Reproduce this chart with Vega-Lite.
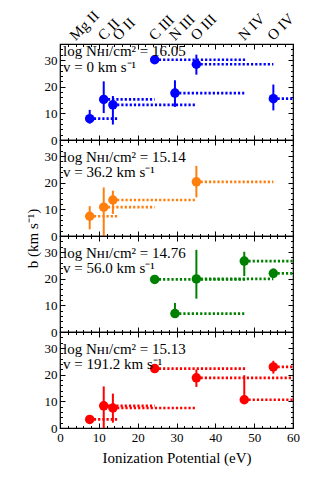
{
  "$schema": "https://vega.github.io/schema/vega-lite/v6.json",
  "padding": {"left": 24, "top": 7, "right": 5, "bottom": 5},
  "background": "white",
  "datasets": {
    "pts": [
      {"panel": 1, "ion": "Mg II", "ip": 7.65, "ip_end": 15.04, "b": 8.0, "lo": 6.2, "hi": 11.3},
      {"panel": 1, "ion": "C II", "ip": 11.26, "ip_end": 24.38, "b": 15.2, "lo": 10.1, "hi": 22.0},
      {"panel": 1, "ion": "O II", "ip": 13.62, "ip_end": 35.12, "b": 13.2, "lo": 5.8, "hi": 16.5},
      {"panel": 1, "ion": "C III", "ip": 24.38, "ip_end": 47.89, "b": 30.1, "lo": 30.1, "hi": 30.1},
      {"panel": 1, "ion": "N III", "ip": 29.6, "ip_end": 47.45, "b": 17.6, "lo": 12.4, "hi": 22.4},
      {"panel": 1, "ion": "O III", "ip": 35.12, "ip_end": 54.94, "b": 28.4, "lo": 24.5, "hi": 32.0},
      {"panel": 1, "ion": "O IV", "ip": 54.94, "ip_end": 77.41, "b": 15.5, "lo": 11.1, "hi": 20.8},
      {"panel": 2, "ion": "Mg II", "ip": 7.65, "ip_end": 15.04, "b": 7.4, "lo": 2.5, "hi": 11.2},
      {"panel": 2, "ion": "C II", "ip": 11.26, "ip_end": 24.38, "b": 10.8, "lo": 0.0, "hi": 18.2},
      {"panel": 2, "ion": "O II", "ip": 13.62, "ip_end": 35.12, "b": 13.5, "lo": 8.3, "hi": 17.0},
      {"panel": 2, "ion": "O III", "ip": 35.12, "ip_end": 54.94, "b": 20.3, "lo": 14.5, "hi": 26.3},
      {"panel": 3, "ion": "C III", "ip": 24.38, "ip_end": 47.89, "b": 19.7, "lo": 19.7, "hi": 19.7},
      {"panel": 3, "ion": "N III", "ip": 29.6, "ip_end": 47.45, "b": 6.9, "lo": 5.5, "hi": 10.9},
      {"panel": 3, "ion": "O III", "ip": 35.12, "ip_end": 54.94, "b": 19.9, "lo": 12.5, "hi": 30.8},
      {"panel": 3, "ion": "N IV", "ip": 47.45, "ip_end": 77.47, "b": 26.6, "lo": 21.0, "hi": 30.1},
      {"panel": 3, "ion": "O IV", "ip": 54.94, "ip_end": 77.41, "b": 22.0, "lo": 20.3, "hi": 23.8},
      {"panel": 4, "ion": "Mg II", "ip": 7.65, "ip_end": 15.04, "b": 3.2, "lo": 3.2, "hi": 3.2},
      {"panel": 4, "ion": "C II", "ip": 11.26, "ip_end": 24.38, "b": 8.3, "lo": 0.0, "hi": 15.6},
      {"panel": 4, "ion": "O II", "ip": 13.62, "ip_end": 35.12, "b": 7.5, "lo": 2.0, "hi": 12.9},
      {"panel": 4, "ion": "C III", "ip": 24.38, "ip_end": 47.89, "b": 22.3, "lo": 22.3, "hi": 22.3},
      {"panel": 4, "ion": "O III", "ip": 35.12, "ip_end": 59.7, "b": 18.8, "lo": 15.4, "hi": 21.9},
      {"panel": 4, "ion": "N IV", "ip": 47.45, "ip_end": 77.47, "b": 10.6, "lo": 10.6, "hi": 19.8},
      {"panel": 4, "ion": "O IV", "ip": 54.94, "ip_end": 77.41, "b": 22.9, "lo": 20.4, "hi": 25.2}
    ],
    "ions": [
      {"ion": "Mg II", "ip": 7.65},
      {"ion": "C II", "ip": 11.26},
      {"ion": "O II", "ip": 13.62},
      {"ion": "C III", "ip": 24.38},
      {"ion": "N III", "ip": 29.6},
      {"ion": "O III", "ip": 35.12},
      {"ion": "N IV", "ip": 47.45},
      {"ion": "O IV", "ip": 54.94}
    ],
    "ann": [
      {"panel": 1, "l1": "log Nʜɪ/cm² = 16.05", "l2": "v = 0 km s⁻¹"},
      {"panel": 2, "l1": "log Nʜɪ/cm² = 15.14", "l2": "v = 36.2 km s⁻¹"},
      {"panel": 3, "l1": "log Nʜɪ/cm² = 14.76", "l2": "v = 56.0 km s⁻¹"},
      {"panel": 4, "l1": "log Nʜɪ/cm² = 15.13", "l2": "v = 191.2 km s⁻¹"}
    ]
  },
  "spacing": 0,
  "bounds": "flush",
  "vconcat": [
    {
      "width": 233, "height": 96,
      "layer": [
        {"data": {"name": "pts"}, "transform": [{"filter": "datum.panel == 1"}],
         "mark": {"type": "rule", "strokeDash": [2.2, 2], "strokeWidth": 2.7, "color": "#0000ff", "clip": true},
         "encoding": {
           "x": {"field": "ip", "type": "quantitative", "scale": {"domain": [0, 60], "nice": false, "zero": false},
                 "axis": {"orient": "bottom", "values": [0,2,4,6,8,10,12,14,16,18,20,22,24,26,28,30,32,34,36,38,40,42,44,46,48,50,52,54,56,58,60], "labels": false, "title": null,
                          "tickSize": {"condition": {"test": "datum.value % 10 === 0", "value": -5}, "value": -2.5}}},
           "x2": {"field": "ip_end"},
           "y": {"field": "b", "type": "quantitative", "scale": {"domain": [0, 36], "nice": false},
                 "axis": {"orient": "left", "values": [0,2,4,6,8,10,12,14,16,18,20,22,24,26,28,30,32,34,36], "labelExpr": "datum.value % 10 === 0 ? datum.label : ''", "title": null,
                          "tickSize": {"condition": {"test": "datum.value % 10 === 0", "value": -5}, "value": -2.5}}}
         }},
        {"data": {"name": "pts"}, "transform": [{"filter": "datum.panel == 1"}],
         "mark": {"type": "rule", "strokeWidth": 2, "color": "#0000ff"},
         "encoding": {
           "x": {"field": "ip", "type": "quantitative",
                 "axis": {"orient": "top", "values": [0,2,4,6,8,10,12,14,16,18,20,22,24,26,28,30,32,34,36,38,40,42,44,46,48,50,52,54,56,58,60], "labels": false, "title": null,
                          "tickSize": {"condition": {"test": "datum.value % 10 === 0", "value": -5}, "value": -2.5}}},
           "y": {"field": "lo", "type": "quantitative",
                 "axis": {"orient": "right", "values": [0,2,4,6,8,10,12,14,16,18,20,22,24,26,28,30,32,34,36], "labels": false, "title": null,
                          "tickSize": {"condition": {"test": "datum.value % 10 === 0", "value": -5}, "value": -2.5}}},
           "y2": {"field": "hi"}
         }},
        {"data": {"name": "pts"}, "transform": [{"filter": "datum.panel == 1"}],
         "mark": {"type": "circle", "size": 90, "opacity": 1, "color": "#0000ff"},
         "encoding": {"x": {"field": "ip", "type": "quantitative", "axis": null}, "y": {"field": "b", "type": "quantitative", "axis": null}}},
        {"data": {"name": "ann"}, "transform": [{"filter": "datum.panel == 1"}],
         "mark": {"type": "text", "align": "left", "baseline": "middle", "font": "Liberation Serif", "fontSize": 15, "color": "black"},
         "encoding": {"x": {"datum": 0.8, "type": "quantitative", "axis": null}, "y": {"datum": 33.2, "type": "quantitative", "axis": null}, "text": {"field": "l1"}}},
        {"data": {"name": "ann"}, "transform": [{"filter": "datum.panel == 1"}],
         "mark": {"type": "text", "align": "left", "baseline": "middle", "font": "Liberation Serif", "fontSize": 15, "color": "black"},
         "encoding": {"x": {"datum": 0.8, "type": "quantitative", "axis": null}, "y": {"datum": 27.3, "type": "quantitative", "axis": null}, "text": {"field": "l2"}}},
        {"data": {"name": "ions"}, "transform": [{"filter": "datum.ion != 'Mg II' && datum.ion != 'O II'"}],
         "mark": {"type": "text", "angle": -45, "align": "left", "baseline": "alphabetic", "font": "Liberation Serif", "fontSize": 15, "color": "black", "clip": false, "dx": 2, "dy": -2},
         "encoding": {"x": {"field": "ip", "type": "quantitative", "axis": null}, "y": {"datum": 36, "type": "quantitative", "axis": null}, "text": {"field": "ion"}}},
        {"data": {"name": "ions"}, "transform": [{"filter": "datum.ion == 'Mg II'"}],
         "mark": {"type": "text", "angle": -45, "align": "left", "baseline": "alphabetic", "font": "Liberation Serif", "fontSize": 15, "color": "black", "clip": false, "dx": -8, "dy": -12},
         "encoding": {"x": {"field": "ip", "type": "quantitative", "axis": null}, "y": {"datum": 36, "type": "quantitative", "axis": null}, "text": {"field": "ion"}}},
        {"data": {"name": "ions"}, "transform": [{"filter": "datum.ion == 'O II'"}],
         "mark": {"type": "text", "angle": -45, "align": "left", "baseline": "alphabetic", "font": "Liberation Serif", "fontSize": 15, "color": "black", "clip": false, "dx": 6, "dy": 2},
         "encoding": {"x": {"field": "ip", "type": "quantitative", "axis": null}, "y": {"datum": 36, "type": "quantitative", "axis": null}, "text": {"field": "ion"}}}
      ],
      "resolve": {"axis": {"x": "independent", "y": "independent"}}
    },
    {
      "width": 233, "height": 96,
      "layer": [
        {"data": {"name": "pts"}, "transform": [{"filter": "datum.panel == 2"}],
         "mark": {"type": "rule", "strokeDash": [2.2, 2], "strokeWidth": 2.7, "color": "#ff7f0e", "clip": true},
         "encoding": {
           "x": {"field": "ip", "type": "quantitative", "scale": {"domain": [0, 60], "nice": false, "zero": false},
                 "axis": {"orient": "bottom", "values": [0,2,4,6,8,10,12,14,16,18,20,22,24,26,28,30,32,34,36,38,40,42,44,46,48,50,52,54,56,58,60], "labels": false, "title": null,
                          "tickSize": {"condition": {"test": "datum.value % 10 === 0", "value": -5}, "value": -2.5}}},
           "x2": {"field": "ip_end"},
           "y": {"field": "b", "type": "quantitative", "scale": {"domain": [0, 36], "nice": false},
                 "axis": {"orient": "left", "values": [0,2,4,6,8,10,12,14,16,18,20,22,24,26,28,30,32,34,36], "labelExpr": "datum.value % 10 === 0 ? datum.label : ''", "title": "b (km s⁻¹)", "titleY": 98,
                          "tickSize": {"condition": {"test": "datum.value % 10 === 0", "value": -5}, "value": -2.5}}}
         }},
        {"data": {"name": "pts"}, "transform": [{"filter": "datum.panel == 2"}],
         "mark": {"type": "rule", "strokeWidth": 2, "color": "#ff7f0e"},
         "encoding": {
           "x": {"field": "ip", "type": "quantitative",
                 "axis": {"orient": "top", "values": [0,2,4,6,8,10,12,14,16,18,20,22,24,26,28,30,32,34,36,38,40,42,44,46,48,50,52,54,56,58,60], "labels": false, "title": null,
                          "tickSize": {"condition": {"test": "datum.value % 10 === 0", "value": -5}, "value": -2.5}}},
           "y": {"field": "lo", "type": "quantitative",
                 "axis": {"orient": "right", "values": [0,2,4,6,8,10,12,14,16,18,20,22,24,26,28,30,32,34,36], "labels": false, "title": null,
                          "tickSize": {"condition": {"test": "datum.value % 10 === 0", "value": -5}, "value": -2.5}}},
           "y2": {"field": "hi"}
         }},
        {"data": {"name": "pts"}, "transform": [{"filter": "datum.panel == 2"}],
         "mark": {"type": "circle", "size": 90, "opacity": 1, "color": "#ff7f0e"},
         "encoding": {"x": {"field": "ip", "type": "quantitative", "axis": null}, "y": {"field": "b", "type": "quantitative", "axis": null}}},
        {"data": {"name": "ann"}, "transform": [{"filter": "datum.panel == 2"}],
         "mark": {"type": "text", "align": "left", "baseline": "middle", "font": "Liberation Serif", "fontSize": 15, "color": "black"},
         "encoding": {"x": {"datum": 0.8, "type": "quantitative", "axis": null}, "y": {"datum": 29.8, "type": "quantitative", "axis": null}, "text": {"field": "l1"}}},
        {"data": {"name": "ann"}, "transform": [{"filter": "datum.panel == 2"}],
         "mark": {"type": "text", "align": "left", "baseline": "middle", "font": "Liberation Serif", "fontSize": 15, "color": "black"},
         "encoding": {"x": {"datum": 0.8, "type": "quantitative", "axis": null}, "y": {"datum": 24.0, "type": "quantitative", "axis": null}, "text": {"field": "l2"}}}
      ],
      "resolve": {"axis": {"x": "independent", "y": "independent"}}
    },
    {
      "width": 233, "height": 96,
      "layer": [
        {"data": {"name": "pts"}, "transform": [{"filter": "datum.panel == 3"}],
         "mark": {"type": "rule", "strokeDash": [2.2, 2], "strokeWidth": 2.7, "color": "#008000", "clip": true},
         "encoding": {
           "x": {"field": "ip", "type": "quantitative", "scale": {"domain": [0, 60], "nice": false, "zero": false},
                 "axis": {"orient": "bottom", "values": [0,2,4,6,8,10,12,14,16,18,20,22,24,26,28,30,32,34,36,38,40,42,44,46,48,50,52,54,56,58,60], "labels": false, "title": null,
                          "tickSize": {"condition": {"test": "datum.value % 10 === 0", "value": -5}, "value": -2.5}}},
           "x2": {"field": "ip_end"},
           "y": {"field": "b", "type": "quantitative", "scale": {"domain": [0, 36], "nice": false},
                 "axis": {"orient": "left", "values": [0,2,4,6,8,10,12,14,16,18,20,22,24,26,28,30,32,34,36], "labelExpr": "datum.value % 10 === 0 ? datum.label : ''", "title": null,
                          "tickSize": {"condition": {"test": "datum.value % 10 === 0", "value": -5}, "value": -2.5}}}
         }},
        {"data": {"name": "pts"}, "transform": [{"filter": "datum.panel == 3"}],
         "mark": {"type": "rule", "strokeWidth": 2, "color": "#008000"},
         "encoding": {
           "x": {"field": "ip", "type": "quantitative",
                 "axis": {"orient": "top", "values": [0,2,4,6,8,10,12,14,16,18,20,22,24,26,28,30,32,34,36,38,40,42,44,46,48,50,52,54,56,58,60], "labels": false, "title": null,
                          "tickSize": {"condition": {"test": "datum.value % 10 === 0", "value": -5}, "value": -2.5}}},
           "y": {"field": "lo", "type": "quantitative",
                 "axis": {"orient": "right", "values": [0,2,4,6,8,10,12,14,16,18,20,22,24,26,28,30,32,34,36], "labels": false, "title": null,
                          "tickSize": {"condition": {"test": "datum.value % 10 === 0", "value": -5}, "value": -2.5}}},
           "y2": {"field": "hi"}
         }},
        {"data": {"name": "pts"}, "transform": [{"filter": "datum.panel == 3"}],
         "mark": {"type": "circle", "size": 90, "opacity": 1, "color": "#008000"},
         "encoding": {"x": {"field": "ip", "type": "quantitative", "axis": null}, "y": {"field": "b", "type": "quantitative", "axis": null}}},
        {"data": {"name": "ann"}, "transform": [{"filter": "datum.panel == 3"}],
         "mark": {"type": "text", "align": "left", "baseline": "middle", "font": "Liberation Serif", "fontSize": 15, "color": "black"},
         "encoding": {"x": {"datum": 0.8, "type": "quantitative", "axis": null}, "y": {"datum": 29.8, "type": "quantitative", "axis": null}, "text": {"field": "l1"}}},
        {"data": {"name": "ann"}, "transform": [{"filter": "datum.panel == 3"}],
         "mark": {"type": "text", "align": "left", "baseline": "middle", "font": "Liberation Serif", "fontSize": 15, "color": "black"},
         "encoding": {"x": {"datum": 0.8, "type": "quantitative", "axis": null}, "y": {"datum": 24.0, "type": "quantitative", "axis": null}, "text": {"field": "l2"}}}
      ],
      "resolve": {"axis": {"x": "independent", "y": "independent"}}
    },
    {
      "width": 233, "height": 96,
      "layer": [
        {"data": {"name": "pts"}, "transform": [{"filter": "datum.panel == 4"}],
         "mark": {"type": "rule", "strokeDash": [2.2, 2], "strokeWidth": 2.7, "color": "#ff0000", "clip": true},
         "encoding": {
           "x": {"field": "ip", "type": "quantitative", "scale": {"domain": [0, 60], "nice": false, "zero": false},
                 "axis": {"orient": "bottom", "values": [0,2,4,6,8,10,12,14,16,18,20,22,24,26,28,30,32,34,36,38,40,42,44,46,48,50,52,54,56,58,60], "labelExpr": "datum.value % 10 === 0 ? datum.label : ''", "labelOverlap": false, "labelFlush": false, "title": "Ionization Potential (eV)",
                          "tickSize": {"condition": {"test": "datum.value % 10 === 0", "value": -5}, "value": -2.5}}},
           "x2": {"field": "ip_end"},
           "y": {"field": "b", "type": "quantitative", "scale": {"domain": [0, 36], "nice": false},
                 "axis": {"orient": "left", "values": [0,2,4,6,8,10,12,14,16,18,20,22,24,26,28,30,32,34,36], "labelExpr": "datum.value % 10 === 0 ? datum.label : ''", "title": null,
                          "tickSize": {"condition": {"test": "datum.value % 10 === 0", "value": -5}, "value": -2.5}}}
         }},
        {"data": {"name": "pts"}, "transform": [{"filter": "datum.panel == 4"}],
         "mark": {"type": "rule", "strokeWidth": 2, "color": "#ff0000"},
         "encoding": {
           "x": {"field": "ip", "type": "quantitative",
                 "axis": {"orient": "top", "values": [0,2,4,6,8,10,12,14,16,18,20,22,24,26,28,30,32,34,36,38,40,42,44,46,48,50,52,54,56,58,60], "labels": false, "title": null,
                          "tickSize": {"condition": {"test": "datum.value % 10 === 0", "value": -5}, "value": -2.5}}},
           "y": {"field": "lo", "type": "quantitative",
                 "axis": {"orient": "right", "values": [0,2,4,6,8,10,12,14,16,18,20,22,24,26,28,30,32,34,36], "labels": false, "title": null,
                          "tickSize": {"condition": {"test": "datum.value % 10 === 0", "value": -5}, "value": -2.5}}},
           "y2": {"field": "hi"}
         }},
        {"data": {"name": "pts"}, "transform": [{"filter": "datum.panel == 4"}],
         "mark": {"type": "circle", "size": 90, "opacity": 1, "color": "#ff0000"},
         "encoding": {"x": {"field": "ip", "type": "quantitative", "axis": null}, "y": {"field": "b", "type": "quantitative", "axis": null}}},
        {"data": {"name": "ann"}, "transform": [{"filter": "datum.panel == 4"}],
         "mark": {"type": "text", "align": "left", "baseline": "middle", "font": "Liberation Serif", "fontSize": 15, "color": "black"},
         "encoding": {"x": {"datum": 0.8, "type": "quantitative", "axis": null}, "y": {"datum": 29.8, "type": "quantitative", "axis": null}, "text": {"field": "l1"}}},
        {"data": {"name": "ann"}, "transform": [{"filter": "datum.panel == 4"}],
         "mark": {"type": "text", "align": "left", "baseline": "middle", "font": "Liberation Serif", "fontSize": 15, "color": "black"},
         "encoding": {"x": {"datum": 0.8, "type": "quantitative", "axis": null}, "y": {"datum": 24.0, "type": "quantitative", "axis": null}, "text": {"field": "l2"}}}
      ],
      "resolve": {"axis": {"x": "independent", "y": "independent"}}
    }
  ],
  "config": {
    "font": "Liberation Serif",
    "view": {"stroke": "black", "strokeWidth": 1.2},
    "axis": {"labelFont": "Liberation Serif", "labelFontSize": 13, "labelColor": "black", "titleFont": "Liberation Serif", "titleFontSize": 15, "titleFontWeight": "normal", "titleColor": "black", "tickColor": "black", "tickWidth": 1, "grid": false, "domain": false, "labelPadding": 8}
  }
}
